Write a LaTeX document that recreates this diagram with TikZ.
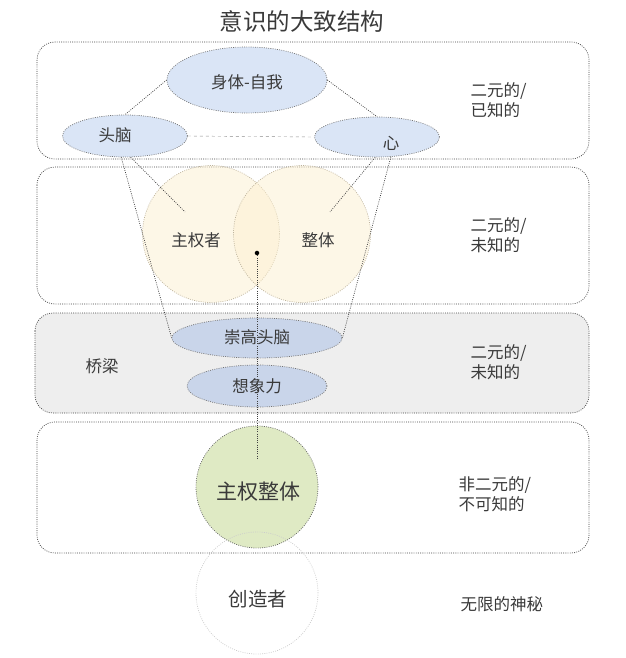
\documentclass[tikz,border=0pt]{standalone}
\usepackage{fontspec}
\setmainfont{Noto Sans CJK SC}
\usepackage{tikz}
\usetikzlibrary{calc,shapes,positioning}
\definecolor{bodyblue}{HTML}{DAE5F6}
\definecolor{deepblue}{HTML}{C9D5EA}
\definecolor{cream}{HTML}{FCEFD0}
\definecolor{sage}{HTML}{DFEAC4}
\definecolor{bridgegray}{HTML}{EEEEEE}
\definecolor{ink}{HTML}{3A3A3A}

\begin{document}
\begin{tikzpicture}[x=1pt, y=-1pt]
          \tikzstyle{dots} = [dash pattern=on 0.9pt off 1.3pt, line width=0.7pt]
          \tikzstyle{layer} = [draw=black!75, dots, rounded corners=18pt]
          \tikzstyle{enode} = [draw=black!55, dots, ellipse, inner sep = 0pt]
          \tikzstyle{vnode} = [draw=black!25!cream, dots, circle, fill=cream, fill opacity=0.5, inner sep = 0pt, minimum size = 137pt]
          \tikzstyle{txt} = [text=ink, font=\fontsize{16.5}{20}\selectfont, align=left]
          \tikzstyle{link} = [draw=black!75, dots]

          \useasboundingbox (0, 0) rectangle (625, 658);

          \node[text=ink, font=\fontsize{23.5}{26}\selectfont] (title) at (302, 21) {意识的大致结构};

          \draw[layer] (37, 42) rectangle (589, 159);
          \draw[layer] (37, 167) rectangle (589, 304);
          \draw[layer, fill=bridgegray] (35, 313) rectangle (589, 413);
          \draw[layer] (37, 422) rectangle (589, 553);

          \node[enode, fill=bodyblue, minimum width=160pt, minimum height=66pt] (body) at (247, 80) {};
          \node[enode, fill=bodyblue, minimum width=125pt, minimum height=42pt] (head) at (125, 136) {};
          \node[enode, fill=bodyblue, minimum width=125pt, minimum height=40pt] (heart) at (377, 137) {};

          \node[vnode] (sov) at (211, 234) {};
          \node[vnode] (whole) at (302, 234) {};

          \node[enode, fill=deepblue, minimum width=170pt, minimum height=40pt] (sublime) at (257, 338) {};
          \node[enode, fill=deepblue, minimum width=140pt, minimum height=42pt] (imag) at (257, 386) {};

          \node[draw=black!60, dots, circle, fill=sage, minimum size=122pt, inner sep=0pt] (sovwhole) at (257, 487) {};
          \node[draw=black!20, dots, circle, minimum size=122pt, inner sep=0pt] (creator) at (257, 593) {};

          \node[txt] (bodyt) at (247, 82) {身体-自我};
          \node[txt] (headt) at (115, 135) {头脑};
          \node[txt] (heartt) at (391, 143) {心};
          \node[txt] (sovt) at (196, 240) {主权者};
          \node[txt] (wholet) at (318, 240) {整体};
          \node[txt] (sublimet) at (257, 337) {崇高头脑};
          \node[txt] (imagt) at (257, 386) {想象力};
          \node[text=ink, font=\fontsize{21}{24}\selectfont] (sovwholet) at (258, 492) {主权整体};
          \node[txt, font=\fontsize{19.5}{22}\selectfont] (creatort) at (258, 599) {创造者};
          \node[txt] (bridge) at (102, 366) {桥梁};

          \node[txt, anchor=west] (known) at (467, 100) {二元的/\\已知的};
          \node[txt, anchor=west] (unknown) at (467, 235) {二元的/\\未知的};
          \node[txt, anchor=west] (unknownb) at (467, 362) {二元的/\\未知的};
          \node[txt, anchor=west] (unknowable) at (455, 494) {非二元的/\\不可知的};
          \node[txt, anchor=west] (mystery) at (457, 604) {无限的神秘};

          \node[fill=black, circle, inner sep=1.6pt] (dot) at (257, 253) {};
          \coordinate (sa) at (185, 212);
          \coordinate (wa) at (330, 212);
          \coordinate (down) at (257, 460);

          \draw[link] (body.west) -- (head.north);
          \draw[link] (body.east) -- (heart.north);
          \draw[draw=black!45, dashed] (head.east) -- (heart.west);
          \draw[link] (head.-100) -- (sublime.west);
          \draw[link] (head.-75) -- (sa);
          \draw[link] (heart.-95) -- (wa);
          \draw[link] (heart.-55) -- (sublime.east);
          \draw[link] (dot) -- (down);
        \end{tikzpicture}
\end{document}
